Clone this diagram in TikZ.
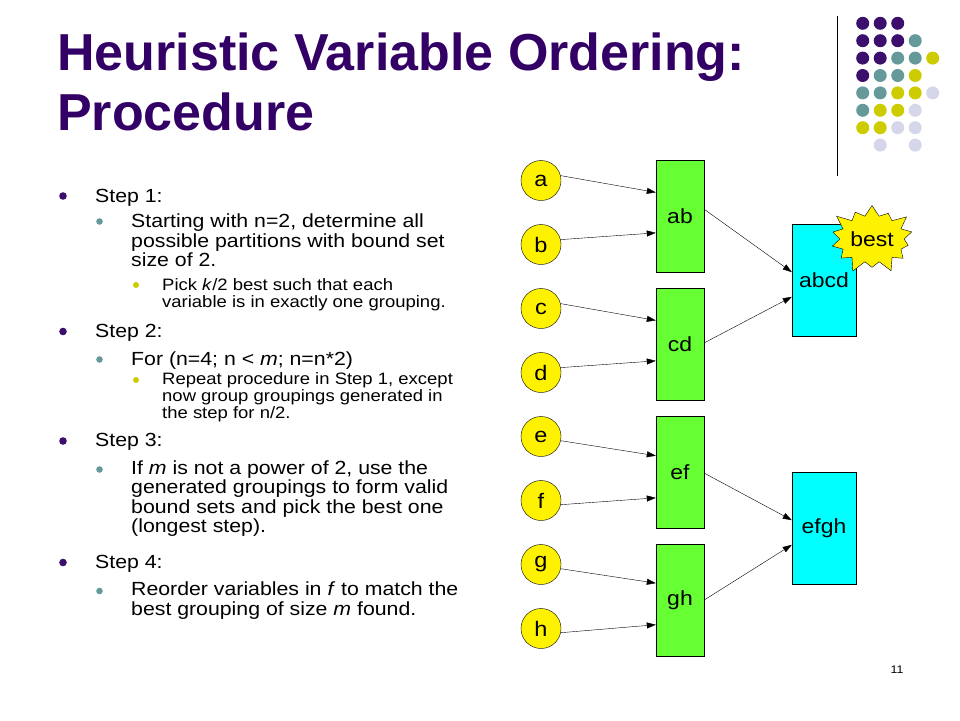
\documentclass[tikz,border=0pt]{standalone}
\usepackage{fontspec}
\setmainfont{Liberation Sans}
\newfontfamily\bodyfont{Liberation Sans}[FakeStretch=1.12]
\usetikzlibrary{arrows.meta,calc,shapes.symbols}
\definecolor{ttlpurple}{RGB}{51,0,102}
\definecolor{dotP}{RGB}{59,15,107}
\definecolor{dotT}{RGB}{102,153,153}
\definecolor{dotY}{RGB}{204,204,0}
\definecolor{dotL}{RGB}{214,214,235}
\definecolor{grpgreen}{RGB}{102,255,51}
\definecolor{mrgcyan}{RGB}{0,255,255}
\tikzset{
  ttl/.style={anchor=base west, inner sep=0pt, text=ttlpurple,
    font=\fontsize{52}{60}\selectfont\bfseries},
  lvlone/.style={anchor=base west, inner sep=0pt, align=left,
    font=\bodyfont\fontsize{19}{19.5}\selectfont},
  lvlthree/.style={anchor=base west, inner sep=0pt, align=left,
    font=\bodyfont\fontsize{16.5}{16.7}\selectfont},
  var/.style={circle, draw, fill=yellow, minimum size=40pt, inner sep=0pt,
    font=\bodyfont\fontsize{21}{24}\selectfont},
  grp/.style={rectangle, draw, fill=grpgreen, minimum width=48pt,
    minimum height=112pt, inner sep=0pt, font=\bodyfont\fontsize{20.5}{24}\selectfont},
  merged/.style={grp, fill=mrgcyan, minimum width=64pt},
  arr/.style={-{Triangle[length=9pt,width=6pt]}, thin}
}
\begin{document}
\begin{tikzpicture}[x=1pt,y=-1pt]
    \useasboundingbox (0,0) rectangle (960,720);
    % Title
    \node[ttl] (title1) at (57,70) {Heuristic Variable Ordering:};
    \node[ttl] (title2) at (57,130) {Procedure};
    % Dot pattern and rule
    \draw[thin] (837,16) -- (837,176);
    \foreach \row [count=\r from 0] in {{P,P,P},{P,P,P,T},{P,P,T,T,Y},{P,T,T,Y},
        {T,T,Y,Y,L},{T,Y,Y,L},{Y,Y,L,L}} {
        \foreach \c [count=\k from 0] in \row {
            \fill[dot\c] (862.7+17.5*\k,23.3+17.4*\r) circle (6.5);
        }
    }
    \fill[dotL] (880.2,145.1) circle (6.5);
    \fill[dotL] (915.2,145.1) circle (6.5);
    % Bullet list (nodes anchored at the baseline of their last line)
    \fill[dotP] (63,196) circle (3.8);
    \node[lvlone] (s1) at (95,202) {Step 1:};
    \fill[dotT] (99.5,221.5) circle (3.3);
    \node[lvlone] (s1a) at (131,266.7) {Starting with n=2, determine all\\possible partitions with bound set\\size of 2.};
    \fill[dotY] (136,285) circle (3);
    \node[lvlthree] (s1b) at (162,307.3) {Pick \textit{k}/2 best such that each\\variable is in exactly one grouping.};
    \fill[dotP] (63,331.5) circle (3.8);
    \node[lvlone] (s2) at (95,337.3) {Step 2:};
    \fill[dotT] (99.5,359.5) circle (3.3);
    \node[lvlone] (s2a) at (131,365) {For (n=4; n < \textit{m}; n=n*2)};
    \fill[dotY] (136,380) circle (3);
    \node[lvlthree] (s2b) at (162,418.3) {Repeat procedure in Step 1, except\\now group groupings generated in\\the step for n/2.};
    \fill[dotP] (63,441) circle (3.8);
    \node[lvlone] (s3) at (95,446.7) {Step 3:};
    \fill[dotT] (99.5,469.5) circle (3.3);
    \node[lvlone] (s3a) at (131,532.7) {If \textit{m} is not a power of 2, use the\\generated groupings to form valid\\bound sets and pick the best one\\(longest step).};
    \fill[dotP] (63,562.5) circle (3.8);
    \node[lvlone] (s4) at (95,568.3) {Step 4:};
    \fill[dotT] (99.5,591) circle (3.3);
    \node[lvlone] (s4a) at (131,615) {Reorder variables in \textit{f} to match the\\best grouping of size \textit{m} found.};
    % Variables
    \foreach \v [count=\i from 0] in {a,b,c,d,e,f,g,h}
        \node[var] (\v) at (541,180.5+64*\i) {\v};
    % Groupings
    \node[grp] (ab) at (680,216) {ab};
    \node[grp] (cd) at (680,344) {cd};
    \node[grp] (ef) at (680,472) {ef};
    \node[grp] (gh) at (680,600) {gh};
    \node[merged] (abcd) at (824,280) {abcd};
    \node[merged] (efgh) at (824,528) {efgh};
    \node[starburst, draw, fill=yellow, starburst points=14, starburst point height=14pt,
        inner xsep=1pt, inner ysep=9pt,
        font=\bodyfont\fontsize{20.5}{24}\selectfont] (best) at (872,239) {best};
    % Arrows
    \foreach \v/\g/\f/\a in {a/ab/0.29/14, b/ab/0.65/14, c/cd/0.29/14, d/cd/0.65/14,
        e/ef/0.355/-12, f/ef/0.73/-12, g/gh/0.35/-12, h/gh/0.72/-12}
        \draw[arr] (\v.\a) -- ($(\g.north west)!\f!(\g.south west)$);
    \foreach \g/\m/\s/\t in {ab/abcd/0.44/0.43, cd/abcd/0.49/0.65,
        ef/efgh/0.51/0.43, gh/efgh/0.5/0.65}
        \draw[arr] ($(\g.north east)!\s!(\g.south east)$) -- ($(\m.north west)!\t!(\m.south west)$);
    % Page number
    \node[font=\bodyfont\fontsize{11}{13}\selectfont] (pagenum) at (897,670) {11};
\end{tikzpicture}
\end{document}
